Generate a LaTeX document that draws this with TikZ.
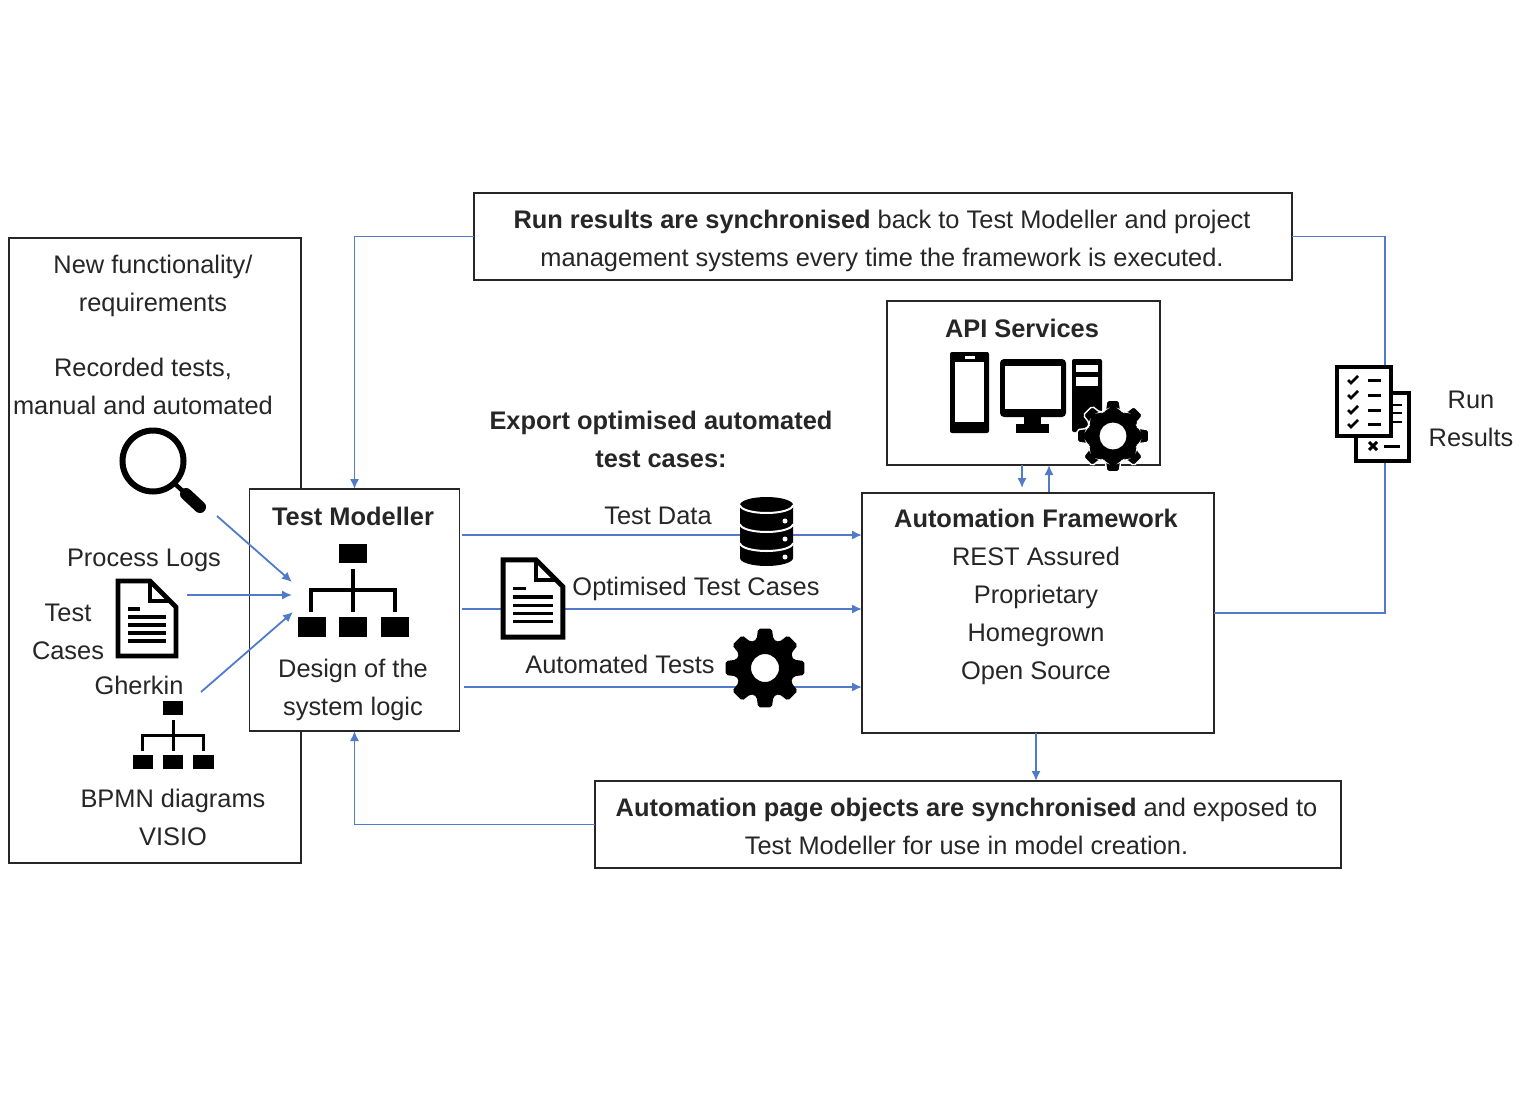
\documentclass[tikz,border=0pt]{standalone}
\usepackage{fontspec}
\setmainfont{Liberation Sans}
\usetikzlibrary{arrows.meta}

\definecolor{flowblue}{HTML}{4F7BC8}
\tikzset{
    box/.style={draw=black!85, line width=0.65pt, fill=white, inner sep=0pt, outer sep=0pt, align=center},
    label/.style={inner sep=0pt, outer sep=0pt, align=center, text=black!85},
    flow/.style={color=flowblue, line width=0.9pt, -{Latex[length=5pt,width=4.6pt]}},
    plainflow/.style={color=flowblue, line width=0.9pt},
    orgchart/.pic={
        \fill (-14,-46) rectangle (14,-27);
        \draw[line cap=butt] (0,-21) -- (0,22);
        \draw[line cap=butt] (-42,22) -- (-42,0) -- (42,0) -- (42,22);
        \foreach \posx in {-41,0,42} {
            \fill (\posx-14,27) rectangle (\posx+14,47);
        }
    },
    docsheet/.pic={
        \draw[fill=white, line width=2.4pt, line join=miter] (-29,-37) -- (3,-37) -- (29,-11) -- (29,38) -- (-29,38) -- cycle;
        \draw[line width=2pt] (3,-37) -- (3,-17) -- (23,-17);
        \draw[line width=1.6pt] (-19,-9) -- (-7,-9);
        \foreach \posy in {-1,7,15,23} {
            \draw[line width=1.6pt] (-19,\posy) -- (19,\posy);
        }
    },
    gear/.pic={
        \fill[even odd rule, rounded corners=1pt, pic actions]
            (-22.5:29) \foreach \ang in {0,45,...,315} {
                -- (\ang-16:30) -- (\ang-10:40) -- (\ang+10:40) -- (\ang+16:30) -- (\ang+22.5:29)
            } -- cycle (0,0) circle (14);
    },
}

\begin{document}
\begin{tikzpicture}[x=0.5pt, y=-0.5pt, font=\fontsize{12.7}{19}\selectfont]
    \useasboundingbox (0,0) rectangle (1536,1092);

    % Boxes
    \node[box, minimum width=146pt, minimum height=312.5pt] (sources) at (155,550.5) {};
    \node[box, minimum width=105pt, minimum height=121pt] (modeller) at (354.5,610) {};
    \node[box, minimum width=409pt, minimum height=43.5pt] (runbox) at (883,236.5) {};
    \node[box, minimum width=136.5pt, minimum height=82pt] (apibox) at (1023.5,383) {};
    \node[box, minimum width=176pt, minimum height=120pt] (framework) at (1038,613) {};
    \node[box, minimum width=373pt, minimum height=43.5pt] (pagebox) at (968,824.5) {};
    \node[label] (runtext) at (882,240.5) {\textbf{Run results are synchronised} back to Test Modeller and project\\management systems every time the framework is executed.};
    \node[label] (pagetext) at (966.5,826.5) {\textbf{Automation page objects are synchronised} and exposed to\\Test Modeller for use in model creation.};

    % Free ends of the connectors
    \coordinate (logsout) at (217,516);
    \coordinate (logsin) at (292,582);
    \coordinate (casesout) at (187,595);
    \coordinate (casesin) at (292,595);
    \coordinate (gherkinout) at (201,692);
    \coordinate (gherkinin) at (293,612);
    \coordinate (dataout) at (462,535);
    \coordinate (testsout) at (462,609);
    \coordinate (autoout) at (464,687);
    \coordinate (apidown) at (1022,465);
    \coordinate (apiup) at (1049,465);
    \coordinate (apidownend) at (1022,488);
    \coordinate (apiupstart) at (1049,492);

    % Feedback loops
    \draw[flow] (runbox.west) -| (modeller.north);
    \draw[flow] (pagebox.west) -| (modeller.south);
    \draw[plainflow] (runbox.east) -| (1385,613) -- (framework.east |- 0,613);
    \draw[flow] (framework.south -| 1036,0) -- (pagebox.north -| 1036,0);
    \draw[flow] (apidown) -- (apidownend);
    \draw[flow] (apiupstart) -- (apiup);

    % Inputs
    \draw[flow] (logsout) -- (logsin);
    \draw[flow] (casesout) -- (casesin);
    \draw[flow] (gherkinout) -- (gherkinin);

    % Exports
    \draw[flow] (dataout) -- (framework.west |- dataout);
    \draw[flow] (testsout) -- (framework.west |- testsout);
    \draw[flow] (autoout) -- (framework.west |- autoout);

    % Left column
    \node[label] (newreq) at (153,286) {New functionality/\\requirements};
    \node[label] (recorded) at (143,386) {Recorded tests,\\manual and automated};
    \node[label] (logs) at (144,560) {Process Logs};
    \node[label] (cases) at (68,632) {Test\\Cases};
    \node[label] (gherkin) at (139,685) {Gherkin};
    \node[label] (bpmn) at (173,817) {BPMN diagrams\\VISIO};

    % Magnifier
    \draw[line width=3pt] (153,461) circle (30.5);
    \draw[line width=2.2pt] (174,483) -- (186,494);
    \draw[line width=6pt, line cap=round] (186,494) -- (200,507);

    \pic[line width=1.9pt] at (147,618) {docsheet};
    \pic[scale=.73, line width=1.5pt] at (173,735) {orgchart};

    % Test Modeller
    \node[label] (modellertitle) at (353,516) {\textbf{Test Modeller}};
    \pic[line width=2pt] at (353,590) {orgchart};
    \node[label] (modellertext) at (353,690) {Design of the\\system logic};

    % Middle column
    \node[label] (exporttitle) at (661,439) {\textbf{Export optimised automated}\\\textbf{test cases:}};
    \node[label] (datalabel) at (658,516) {Test Data};
    \node[label] (caseslabel) at (696,589) {Optimised Test Cases};
    \node[label] (autolabel) at (620,664) {Automated Tests};
    \pic[scale=1.03] at (533,598) {docsheet};
    \pic at (765,668) {gear};

    % Database
    \fill (740,505) arc (180:360:26.5 and 8) -- (793,558) arc (0:180:26.5 and 8) -- cycle;
    \foreach \posy in {505,524,543} {
        \draw[white, line width=1pt] (740,\posy) arc (180:0:26.5 and 8);
    }
    \foreach \posy in {521,539,557} {
        \fill[white] (785,\posy) circle (2.5);
    }

    % API Services
    \node[label] (apititle) at (1022,328) {\textbf{API Services}};
    \fill[rounded corners=1pt] (950,352) rectangle (989,433);
    \fill[white] (955,362) rectangle (984,422);
    \fill[white] (965,355.5) rectangle (975,358.5);
    \fill[rounded corners=2pt] (1000,359) rectangle (1066,417);
    \fill[white] (1005,366) rectangle (1061,409);
    \fill (1024,417) rectangle (1041,426);
    \fill (1016,424) rectangle (1049,433);
    \fill[rounded corners=1pt] (1072,359) rectangle (1102,432);
    \fill[white] (1076,365) rectangle (1098,372);
    \fill[white] (1076,377) rectangle (1098,386);
    \pic[scale=.91, draw=white, line width=0.7pt] at (1113,436) {gear};

    % Automation Framework
    \node[label] (frameworktext) at (1036,597) {\textbf{Automation Framework}\\REST Assured\\Proprietary\\Homegrown\\Open Source};

    % Run results
    \draw[fill=white, line width=2pt] (1356,393) rectangle (1409,461);
    \foreach \posy in {405,413,422} {
        \draw[line width=1.4pt] (1392,\posy) -- (1402,\posy);
    }
    \draw[line width=1.5pt] (1369,442) -- (1377,450) (1377,442) -- (1369,450);
    \draw[line width=1.5pt] (1384,446) -- (1400,446);
    \draw[fill=white, line width=2pt] (1337,367) rectangle (1391,436);
    \foreach \posy in {380,395,410,424} {
        \draw[line width=1.3pt] (1348,\posy) -- (1351,\posy+3) -- (1358,\posy-4);
        \draw[line width=1.5pt] (1368,\posy) -- (1381,\posy);
    }
    \node[label] (runlabel) at (1471,419) {Run\\Results};
\end{tikzpicture}
\end{document}
